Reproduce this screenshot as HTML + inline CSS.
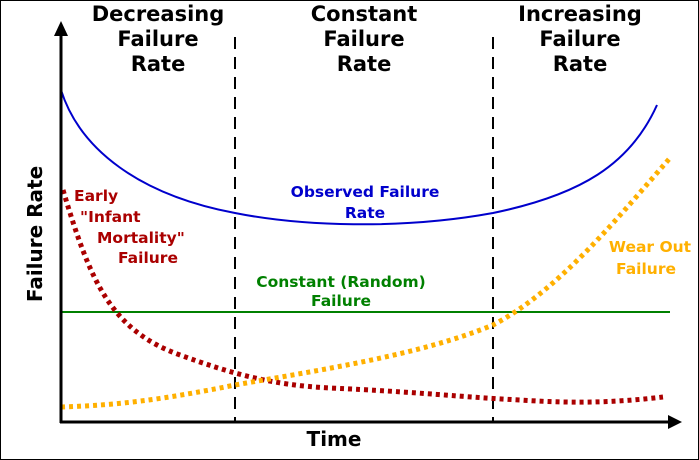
<!DOCTYPE html>
<html><head><style>
body{margin:0;background:#fff}
svg{display:block}
text{font-family:"DejaVu Sans","Liberation Sans",sans-serif;font-weight:bold}
</style></head><body>
<svg width="699" height="460" viewBox="0 0 699 460">
<rect x="0.5" y="0.5" width="698" height="459" fill="#fff" stroke="#000"/>
<g font-size="21" fill="#000" text-anchor="middle">
<text x="158" y="21">Decreasing</text><text x="158" y="46">Failure</text><text x="158" y="71">Rate</text>
<text x="364" y="21">Constant</text><text x="364" y="46">Failure</text><text x="364" y="71">Rate</text>
<text x="580" y="21">Increasing</text><text x="580" y="46">Failure</text><text x="580" y="71">Rate</text>
</g>
<g stroke="#000" stroke-width="2" stroke-dasharray="12,8">
<line x1="235" y1="37" x2="235" y2="422"/>
<line x1="493" y1="37" x2="493" y2="422"/>
</g>
<line x1="61" y1="312" x2="670" y2="312" stroke="#008000" stroke-width="2"/>
<path d="M61,90 C80,150 140,195 235,213 C300,226 400,230 493,213 C580,195 630,165 657,105" fill="none" stroke="#0000cc" stroke-width="2"/>
<path d="M63,190 C90,280 110,330 180,355 C230,373 270,385 330,388 C420,392 460,397 520,400 C580,404 620,402 663,397" fill="none" stroke="#aa0000" stroke-width="5" stroke-dasharray="4,4"/>
<path d="M61,407 C120,405 160,400 235,385 C320,370 420,355 493,325 C560,290 620,215 670,158" fill="none" stroke="#ffb000" stroke-width="5" stroke-dasharray="4,4"/>
<g stroke="#000" stroke-width="3">
<line x1="61" y1="423" x2="61" y2="30"/>
<line x1="60" y1="422" x2="672" y2="422"/>
</g>
<polygon points="61,21 54,36 68,36" fill="#000"/>
<polygon points="682,422 668,415 668,429" fill="#000"/>
<text x="334" y="446" font-size="20" text-anchor="middle">Time</text>
<text transform="translate(42,234) rotate(-90)" font-size="20" text-anchor="middle">Failure Rate</text>
<g font-size="15.5" text-anchor="middle">
<text x="365" y="197" fill="#0000cc">Observed Failure</text><text x="365" y="218" fill="#0000cc">Rate</text>
<text x="341" y="287" fill="#008000">Constant (Random)</text><text x="341" y="306" fill="#008000">Failure</text>
<text x="650" y="252" fill="#ffb000">Wear Out</text><text x="646" y="274" fill="#ffb000">Failure</text>
</g>
<g font-size="15.5" fill="#aa0000">
<text x="74" y="201">Early</text>
<text x="80" y="222">"Infant</text>
<text x="97" y="243">Mortality"</text>
<text x="118" y="263">Failure</text>
</g>
</svg>
</body></html>
